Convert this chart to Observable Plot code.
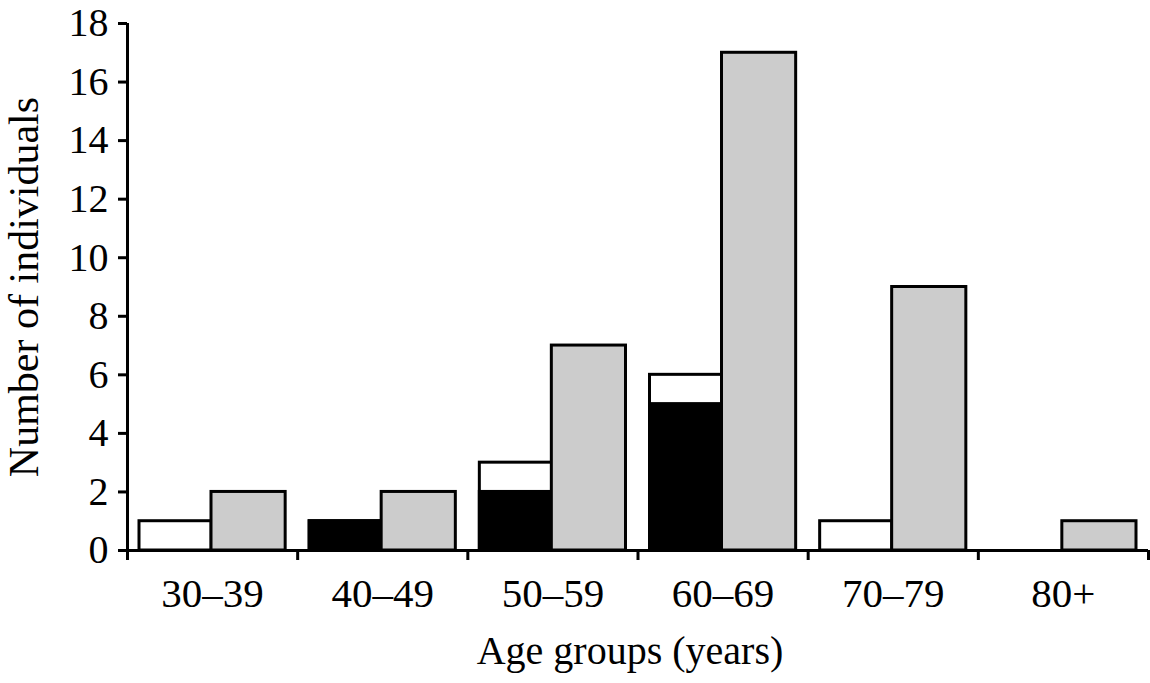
<!DOCTYPE html>
<html><head>
<meta charset="utf-8">
<script src="https://cdn.jsdelivr.net/npm/d3@7"></script>
<script src="https://cdn.jsdelivr.net/npm/@observablehq/plot@0.6"></script>
<style>body{margin:0;background:#fff}</style>
</head><body><div id="chart"></div>
<script>
const ageGroups = ["30–39", "40–49", "50–59", "60–69", "70–79", "80+"];
const seriesAtotal = [1, 1, 3, 6, 1, 0];
const seriesAblack = [0, 1, 2, 5, 0, 0];
const seriesBgray = [2, 2, 7, 17, 9, 1];
const yTicks = [0, 2, 4, 6, 8, 10, 12, 14, 16, 18];
const yTitle = "Number of individuals";
const xTitle = "Age groups (years)";

const rows = ageGroups.map((g, i) => ({
  group: g, i, total: seriesAtotal[i], black: seriesAblack[i], gray: seriesBgray[i]
}));

const chart = Plot.plot({
  width: 1150,
  height: 683,
  marginLeft: 127,
  marginRight: 2,
  marginTop: 23,
  marginBottom: 133,
  style: {fontFamily: "Liberation Serif", fontSize: "40px", color: "black", background: "white"},
  x: {domain: [0, 6]},
  y: {domain: [0, 18]},
  marks: [
    Plot.rectY(rows.filter(d => d.total > 0), {x1: "i", x2: d => d.i + 1, y1: 0, y2: "total",
      fill: "white", stroke: "black", strokeWidth: 3, insetLeft: 12, insetRight: 86}),
    Plot.rectY(rows.filter(d => d.black > 0), {x1: "i", x2: d => d.i + 1, y1: 0, y2: "black",
      fill: "black", stroke: "black", strokeWidth: 3, insetLeft: 12, insetRight: 86}),
    Plot.rectY(rows.filter(d => d.gray > 0), {x1: "i", x2: d => d.i + 1, y1: 0, y2: "gray",
      fill: "#cccccc", stroke: "black", strokeWidth: 3, insetLeft: 84, insetRight: 12}),
    Plot.ruleX([0], {stroke: "black", strokeWidth: 3}),
    Plot.ruleY([0], {stroke: "black", strokeWidth: 3}),
    Plot.axisY({ticks: yTicks, tickSize: 9, tickPadding: 10, strokeWidth: 3, label: null}),
    Plot.text([yTitle], {frameAnchor: "left", rotate: -90, dx: -103, fontSize: 42, fill: "black",
      textAnchor: "middle", lineAnchor: "middle"}),
    Plot.axisX({ticks: d3.range(ageGroups.length + 1), tickSize: 10, strokeWidth: 3, tickFormat: () => "", label: null}),
    Plot.axisX({ticks: ageGroups.map((_, i) => i + 0.5), tickSize: 0, tickPadding: 27, fontSize: 41,
      tickFormat: v => ageGroups[Math.floor(v)], label: null}),
    Plot.text([xTitle], {frameAnchor: "bottom", dy: 113, dx: -8, fontSize: 40, fill: "black"})
  ]
});
document.getElementById("chart").appendChild(chart);
</script>
</body></html>
